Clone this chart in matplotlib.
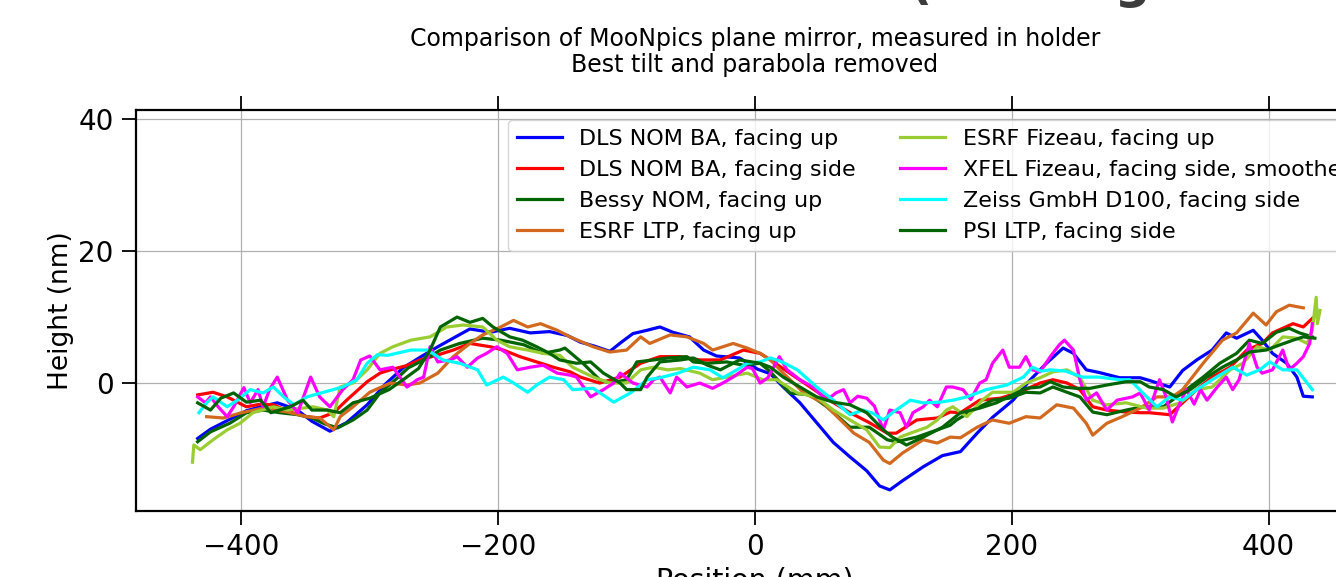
import matplotlib
matplotlib.use("Agg")
import matplotlib.pyplot as plt

# DLS NOM BA, facing up
dls_up_x = [-434, -424, -410, -396, -385, -372, -357, -345, -331, -318, -302, -288, -274, -260, -247, -235,
            -222, -206, -191, -175, -160, -146, -136, -125, -113, -104, -95, -84, -74, -64, -51, -40, -30,
            -12, 2, 12, 22, 35, 48, 61, 74, 87, 97, 105, 115, 131, 146, 160, 173, 185, 201, 214, 227, 240,
            248, 258, 268, 284, 300, 307, 323, 333, 344, 356, 367, 375, 388, 395, 403, 414, 422, 427, 434]
dls_up_y = [-8.4, -7.0, -5.6, -4.2, -3.6, -3.0, -4.0, -5.8, -7.3, -6.0, -3.3, -0.2, 2.3, 4.0, 5.5, 6.8,
            8.2, 7.7, 8.3, 7.6, 7.8, 7.2, 6.2, 5.6, 4.8, 6.2, 7.5, 8.0, 8.5, 7.7, 7.0, 5.0, 4.1,
            3.8, 2.1, 1.4, -0.6, -3.0, -6.0, -9.0, -11.2, -13.3, -15.6, -16.2, -14.8, -12.7, -11.0, -10.4, -7.6, -5.2, -2.6, 0.4, 3.0, 5.3,
            4.5, 2.0, 1.6, 0.8, 0.8, 0.4, -0.6, 1.9, 3.5, 5.0, 7.6, 6.8, 8.0, 6.5, 4.5, 3.0, 0.9, -2.0, -2.1]

# DLS NOM BA, facing side
dls_side_x = [-434, -422, -411, -396, -385, -375, -362, -349, -339, -328, -318, -302, -292, -284, -272, -261,
              -248, -235, -222, -206, -196, -183, -170, -157, -144, -136, -121, -105, -89, -74, -58, -43,
              -27, -9, 4, 12, 27, 43, 58, 74, 89, 103, 110, 126, 142, 152, 160, 175, 191, 206, 222, 232,
              243, 253, 263, 274, 289, 300, 307, 323, 333, 344, 356, 370, 383, 395, 403, 419, 427, 434]
dls_side_y = [-1.8, -1.4, -2.1, -3.6, -3.2, -3.3, -4.4, -5.1, -5.3, -4.5, -2.6, 0.2, 1.5, 2.0, 2.6, 3.5,
              4.2, 5.0, 6.0, 5.5, 5.0, 4.0, 3.2, 2.4, 1.7, 0.9, 0.0, 0.9, 3.0, 4.0, 4.0, 3.5,
              3.5, 5.0, 4.5, 3.5, 1.5, -0.6, -2.6, -4.5, -6.0, -7.6, -7.6, -5.6, -5.3, -4.4, -4.5, -2.6, -2.3, -1.4, 0.0, 0.5,
              0.0, -1.0, -3.6, -4.1, -4.4, -4.5, -4.5, -4.8, -3.0, -1.0, 0.9, 2.4, 5.0, 6.0, 7.6, 9.0, 8.5, 9.8]

# Bessy NOM, facing up
bessy_x = [-434, -424, -409, -396, -383, -370, -356, -345, -335, -325, -313, -302, -292, -280, -270, -255,
           -245, -230, -212, -198, -180, -165, -152, -148, -134, -121, -113, -100, -92, -79, -68, -53,
           -48, -37, -22, -9, 4, 12, 27, 43, 56, 74, 89, 103, 110, 126, 142, 152, 157, 170, 185, 198,
           211, 222, 232, 243, 253, 263, 274, 289, 302, 318, 336, 349, 362, 375, 385, 395, 406, 416, 424, 434]
bessy_y = [-8.9, -7.4, -6.1, -4.5, -4.1, -4.5, -4.8, -5.3, -6.2, -6.8, -5.6, -4.1, -1.5, 0.5, 2.3, 3.8,
           5.0, 6.0, 6.8, 6.5, 5.8, 4.5, 5.0, 5.3, 3.0, 0.5, 0.0, 0.5, 3.2, 3.5, 3.8, 4.0,
           3.2, 3.0, 3.2, 2.7, 3.0, 1.7, -1.5, -1.8, -3.6, -6.7, -6.7, -8.6, -8.9, -8.2, -7.1, -6.4, -5.6, -4.1, -2.6, -2.3,
           -1.4, -1.5, -0.6, -1.4, -2.1, -4.4, -4.8, -4.1, -3.6, -3.6, -1.0, 0.9, 3.0, 4.5, 6.5, 6.0, 7.7, 8.3, 7.6, 7.0]

# ESRF LTP, facing up
esrf_ltp_x = [-427, -414, -400, -383, -364, -349, -339, -328, -323, -313, -300, -284, -271, -261, -247, -235,
              -222, -212, -198, -188, -177, -167, -154, -144, -126, -113, -100, -89, -82, -66, -53, -40,
              -33, -17, -6, 4, 12, 22, 38, 53, 64, 77, 89, 100, 105, 115, 131, 142, 152, 160, 173, 185,
              198, 211, 222, 235, 248, 258, 263, 274, 286, 300, 313, 325, 333, 349, 364, 375, 388, 398, 406, 416, 427]
esrf_ltp_y = [-5.1, -5.3, -4.5, -3.8, -4.4, -5.1, -5.3, -7.1, -5.1, -3.6, -1.4, 0.0, -0.3, 0.0, 1.5, 4.0,
              6.0, 7.3, 8.5, 9.5, 8.5, 9.0, 8.0, 7.0, 5.5, 4.7, 5.0, 7.0, 6.0, 7.3, 7.0, 6.0,
              5.0, 6.0, 5.3, 4.5, 3.5, 1.5, -1.5, -3.0, -5.1, -7.6, -9.0, -11.7, -12.2, -10.6, -8.6, -9.1, -8.2, -8.3, -6.7, -5.6,
              -6.1, -5.1, -5.3, -3.3, -3.8, -6.1, -7.9, -6.1, -5.1, -3.8, -2.1, -2.1, -1.0, 3.0, 6.5, 7.6, 10.6, 8.8, 10.8, 11.8, 11.4]

# ESRF Fizeau, facing up
esrf_fiz_x = [-438, -437, -432, -422, -411, -401, -391, -375, -364, -344, -333, -328, -323, -313, -302, -292,
              -282, -268, -253, -240, -227, -212, -201, -191, -177, -165, -152, -142, -126, -113, -100, -89,
              -79, -68, -58, -43, -33, -22, -6, 6, 17, 33, 48, 61, 74, 87, 97, 105, 113, 121, 134, 142,
              149, 154, 165, 177, 185, 201, 211, 222, 232, 243, 253, 263, 274, 289, 305, 318, 331, 344, 356, 370,
              380, 391, 401, 411, 422, 430, 434, 437, 438, 440]
esrf_fiz_y = [-12.0, -9.4, -10.1, -8.6, -7.1, -6.1, -4.5, -3.6, -4.1, -3.6, -4.1, -5.1, -0.6, 0.0, 2.0, 4.5,
              5.5, 6.5, 7.0, 8.5, 8.8, 8.5, 6.5, 5.5, 5.0, 4.5, 4.2, 2.4, 0.9, 0.0, 0.0, 2.0,
              2.4, 2.0, 2.2, 1.5, 0.5, 0.9, 1.5, 0.5, 0.5, -1.5, -2.1, -4.1, -5.6, -7.1, -9.7, -9.8, -8.2, -7.6, -6.7, -5.6,
              -4.1, -3.6, -5.1, -2.6, -1.4, -1.4, 0.0, 0.8, 1.7, 2.0, 0.8, -2.6, -3.3, -3.0, -3.8, -3.8, -3.0, -1.0, -0.6, 2.0,
              3.0, 5.5, 5.0, 7.0, 6.8, 6.0, 8.0, 13.0, 9.0, 11.0]

# XFEL Fizeau, facing side, smoothed
xfel_x = [-434, -428, -424, -418, -411, -406, -398, -393, -387, -383, -378, -372, -364, -356, -346, -339,
          -331, -321, -313, -307, -300, -292, -282, -271, -263, -258, -253, -247, -237, -232, -224, -216,
          -209, -201, -193, -185, -175, -165, -154, -144, -139, -128, -118, -110, -105, -95, -84, -79,
          -74, -66, -61, -53, -43, -33, -25, -17, -6, -2, 4, 10, 19, 25, 35, 45, 56, 63, 69, 74, 80, 87,
          93, 100, 105, 113, 118, 123, 131, 136, 142, 149, 154, 162, 168, 175, 180, 185, 193, 198, 206,
          211, 216, 222, 230, 237, 241, 248, 253, 258, 266, 274, 282, 294, 300, 307, 315, 320, 325, 331,
          336, 342, 347, 352, 360, 367, 372, 377, 385, 391, 395, 403, 411, 416, 422, 427, 432, 434]
xfel_y = [-2.1, -3.0, -2.1, -3.6, -5.1, -3.6, -0.7, -3.0, -1.0, -3.6, -1.0, 0.9, -2.6, -4.5, 0.9, -2.1,
          -3.6, -1.0, 0.5, 3.5, 4.1, 2.0, 2.4, -0.6, 0.5, 0.9, 5.5, 3.2, 3.5, 4.0, 2.4, 3.8,
          4.5, 5.5, 4.5, 2.0, 2.4, 2.7, 1.5, 1.2, 0.9, -2.1, -1.0, 0.0, 1.5, 0.0, -0.6, 0.5,
          0.9, -1.5, 0.9, -0.6, 0.0, -0.8, 0.0, 0.9, 2.4, 2.2, 0.0, 0.8, 4.0, 2.0, 0.5, -0.6, -2.6, -1.5, -1.0, -3.0, -2.0, -2.3,
          -3.5, -7.1, -4.1, -4.5, -6.7, -4.5, -3.6, -2.6, -3.6, -0.6, -0.6, -1.0, -2.5, 0.0, 0.5, 3.0, 5.0, 2.4, 2.4,
          4.0, 2.0, 1.7, 4.0, 5.8, 6.5, 5.0, 0.5, -2.6, -1.5, -4.1, -2.6, -2.1, -1.5, -4.1, 0.5, -2.0, -5.9, -3.0,
          -1.0, -3.2, -1.0, -2.6, -0.6, 0.9, -1.0, 0.5, 6.0, 2.4, 1.5, 2.0, 5.0, 2.0, 3.0, 4.0, 6.0, 9.0]

# Zeiss GmbH D100, facing side
zeiss_x = [-433, -427, -422, -411, -403, -393, -383, -375, -367, -359, -349, -336, -321, -310, -302, -294,
           -286, -268, -255, -243, -230, -216, -209, -196, -188, -177, -170, -160, -149, -142, -126, -110,
           -97, -84, -74, -60, -48, -35, -25, -14, -6, 4, 12, 20, 33, 48, 61, 74, 84, 92, 100, 107,
           121, 131, 144, 154, 165, 180, 196, 209, 216, 223, 230, 242, 255, 268, 284, 292, 302, 313, 323, 333,
           344, 356, 372, 383, 393, 401, 411, 422, 434]
zeiss_y = [-4.5, -3.0, -2.1, -3.6, -2.6, -1.0, -1.5, -0.6, -2.1, -3.3, -2.1, -1.4, -0.6, 0.5, 3.0, 4.3,
           4.2, 5.0, 5.0, 3.5, 3.0, 2.0, -0.3, 0.9, 0.0, -1.4, -0.3, 0.9, 0.5, -1.0, -0.8, -2.9,
           -1.5, 0.5, 0.8, 1.5, 2.4, 2.0, 0.8, 2.0, 3.0, 3.2, 3.8, 3.3, 2.0, -0.6, -2.6, -4.8, -4.1, -4.6, -5.6, -4.5,
           -2.6, -3.0, -2.9, -2.6, -2.1, -1.0, -0.3, 0.9, 2.4, 1.8, 2.0, 1.8, 0.9, 0.9, 0.5, 0.5, -1.5, -3.6, -2.1, -2.6,
           -1.0, 0.5, 2.4, 1.2, 2.0, 3.2, 2.0, 2.0, -1.0]

# PSI LTP, facing side
psi_x = [-434, -424, -416, -406, -396, -385, -377, -362, -352, -345, -333, -323, -313, -300, -285, -274,
         -262, -253, -245, -232, -222, -212, -204, -191, -181, -170, -160, -152, -139, -128, -118, -105,
         -100, -89, -84, -74, -58, -48, -37, -27, -12, 4, 12, 22, 35, 48, 61, 74, 87, 100, 107, 118,
         131, 146, 160, 175, 188, 211, 222, 230, 240, 250, 261, 274, 289, 300, 307, 318, 328, 339, 352, 364,
         375, 385, 398, 409, 419, 427, 436]
psi_y = [-3.0, -4.1, -2.3, -1.5, -2.9, -2.6, -4.5, -3.6, -2.6, -4.1, -4.1, -4.5, -3.0, -2.3, -1.0, 0.5,
         2.2, 5.0, 8.5, 10.0, 9.2, 9.8, 8.5, 7.0, 6.5, 5.5, 4.5, 3.5, 3.0, 3.2, 1.5, 0.0,
         -1.0, -1.0, 0.9, 3.2, 3.5, 3.8, 2.7, 2.0, 3.5, 3.0, 2.4, 0.9, -0.6, -2.1, -2.9, -3.3, -4.5, -7.1, -8.2, -9.4,
         -8.2, -6.7, -4.5, -3.8, -3.0, -0.8, -0.6, 0.2, -0.6, -0.8, -0.8, -0.3, 0.2, 0.2, -0.6, -1.0, -2.1, -1.0, 0.9, 2.4,
         3.5, 4.7, 5.0, 5.8, 6.5, 7.0, 6.8]

series = [
    (dls_up_x, dls_up_y, "DLS NOM BA, facing up", "blue"),
    (dls_side_x, dls_side_y, "DLS NOM BA, facing side", "red"),
    (bessy_x, bessy_y, "Bessy NOM, facing up", "darkgreen"),
    (esrf_ltp_x, esrf_ltp_y, "ESRF LTP, facing up", "chocolate"),
    (esrf_fiz_x, esrf_fiz_y, "ESRF Fizeau, facing up", "yellowgreen"),
    (xfel_x, xfel_y, "XFEL Fizeau, facing side, smoothed", "magenta"),
    (zeiss_x, zeiss_y, "Zeiss GmbH D100, facing side", "cyan"),
    (psi_x, psi_y, "PSI LTP, facing side", "darkgreen"),
]

fig = plt.figure(figsize=(13.36, 5.77), dpi=100)
ax = fig.add_axes([0.1018, 0.1144, 0.9266, 0.695])

for xs, ys, lab, col in series:
    ax.plot(xs, ys, color=col, lw=2.3, label=lab)

ax.set_xlim(-482, 482)
ax.set_ylim(-19.4, 41.4)
ax.set_xticks([-400, -200, 0, 200, 400])
ax.set_yticks([0, 20, 40])
ax.grid(True, color="#b0b0b0", lw=0.9)
ax.tick_params(axis="both", labelsize=20, length=10, width=1.3, direction="out")
ax.tick_params(axis="x", top=True, pad=6)
ax.tick_params(axis="y", pad=6)
for s in ax.spines.values():
    s.set_linewidth(1.6)

ax.set_xlabel("Position (mm)", fontsize=20.5, labelpad=4)
ax.set_ylabel("Height (nm)", fontsize=19, labelpad=3)

ax.legend(loc="upper right", ncol=2, fontsize=16, handlelength=2.0,
          columnspacing=2.0, borderaxespad=0.45)

fig.text(755 / 1336, 1 - 52 / 577,
         "Comparison of MooNpics plane mirror, measured in holder\nBest tilt and parabola removed",
         ha="center", va="center", fontsize=17, multialignment="center", linespacing=1.1)

# big slide heading, mostly above the picture
fig.text(0.355, 1.004, "MIRROR TESTS (Holding", fontsize=36, fontweight="bold",
         color="#3c3c3c", ha="left", va="baseline")

fig.savefig("out.png", dpi=100)
